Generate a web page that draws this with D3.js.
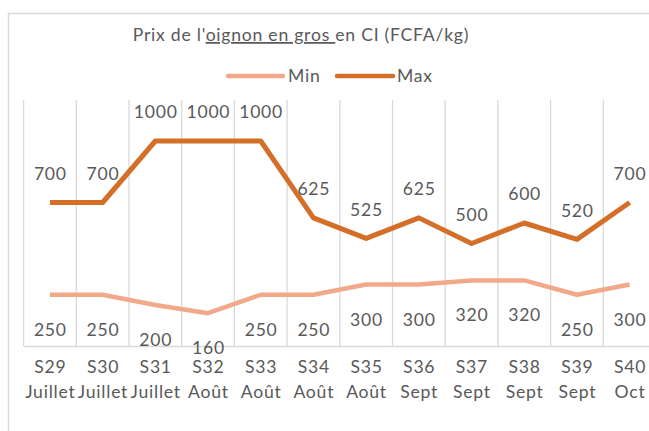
<!DOCTYPE html>
<html><head><meta charset="utf-8">
<script src="https://cdn.jsdelivr.net/npm/d3@7/dist/d3.min.js"></script>
<style>
html,body{margin:0;padding:0;background:#fff;}
text{font-family:Lato,"Open Sans",sans-serif;fill:#595959;letter-spacing:0.75px;}
</style></head>
<body><svg id="chart" width="649" height="431"></svg>
<script>
const weeks = ["S29","S30","S31","S32","S33","S34","S35","S36","S37","S38","S39","S40"];
const months = ["Juillet","Juillet","Juillet","Août","Août","Août","Août","Sept","Sept","Sept","Sept","Oct"];
const minValues = [250,250,200,160,250,250,300,300,320,320,250,300];
const maxValues = [700,700,1000,1000,1000,625,525,625,500,600,520,700];
const seriesNames = ["Min","Max"];
const colors = {Min:"#F2A98A", Max:"#D46F2A"};

const svg = d3.select("#chart");
const fs = 17.6;
const ls = 0.375; // half letter-spacing correction for centered text

// outer border
svg.append("path").attr("d","M8.5,431 V13.5 H649").attr("fill","none").attr("stroke","#d9d9d9").attr("stroke-width",1.5);

const x = d3.scaleBand().domain(weeks).range([23.6, 656]).padding(0);
const y = d3.scaleLinear().domain([0,1200]).range([346,100]);

// vertical gridlines at category boundaries
const bounds = weeks.map(w => x(w)).concat([x.range()[1]]);
svg.append("g").selectAll("line").data(bounds).join("line")
  .attr("x1",d=>d).attr("x2",d=>d).attr("y1",y(1200)).attr("y2",y(0))
  .attr("stroke","#d9d9d9").attr("stroke-width",1.3);

// x axis
const ax = svg.append("g").attr("transform",`translate(0,${y(0)})`)
  .call(d3.axisBottom(x).tickSize(0).tickFormat(""));
ax.select(".domain").attr("stroke","#d9d9d9").attr("stroke-width",1.5);
ax.selectAll(".tick").each(function(d,i){
  const t = d3.select(this).append("text").attr("text-anchor","middle")
    .style("font-size",fs+"px").attr("fill","#595959");
  t.append("tspan").attr("x",ls).attr("y",372.7-346).text(weeks[i]);
  t.append("tspan").attr("x",ls).attr("y",398-346).text(months[i]);
});

const cx = d => x(d) + x.bandwidth()/2;
const line = d3.line().x((d,i)=>cx(weeks[i])).y(d=>y(d));

svg.append("path").datum(minValues).attr("d",line).attr("fill","none")
  .attr("stroke",colors.Min).attr("stroke-width",4.5).attr("stroke-linejoin","round");
svg.append("path").datum(maxValues).attr("d",line).attr("fill","none")
  .attr("stroke",colors.Max).attr("stroke-width",5).attr("stroke-linejoin","round");

// labels
svg.append("g").selectAll("text").data(maxValues).join("text")
  .attr("x",(d,i)=>cx(weeks[i])+ls).attr("y",d=>y(d)-22.7).attr("text-anchor","middle")
  .style("font-size",fs+"px").text(d=>d);
svg.append("g").selectAll("text").data(minValues).join("text")
  .attr("x",(d,i)=>cx(weeks[i])+ls).attr("y",d=>y(d)+41).attr("text-anchor","middle")
  .style("font-size",fs+"px").text(d=>d);

// title
const title = svg.append("text").attr("x",301).attr("y",41).attr("text-anchor","middle")
  .style("font-size",fs+"px");
title.append("tspan").text("Prix de l'");
title.append("tspan").attr("text-decoration","underline").style("text-decoration","underline").text("oignon en gros ");
title.append("tspan").text("en CI (FCFA/kg)");

// legend
const leg = [{name:seriesNames[0], x1:228, x2:283, tx:288},{name:seriesNames[1], x1:337, x2:393, tx:397}];
const lg = svg.append("g");
leg.forEach(l=>{
  lg.append("line").attr("x1",l.x1).attr("x2",l.x2).attr("y1",76).attr("y2",76)
    .attr("stroke",colors[l.name]).attr("stroke-width",4.5).attr("stroke-linecap","round");
  lg.append("text").attr("x",l.tx).attr("y",82).style("font-size",fs+"px").text(l.name);
});
</script></body></html>
